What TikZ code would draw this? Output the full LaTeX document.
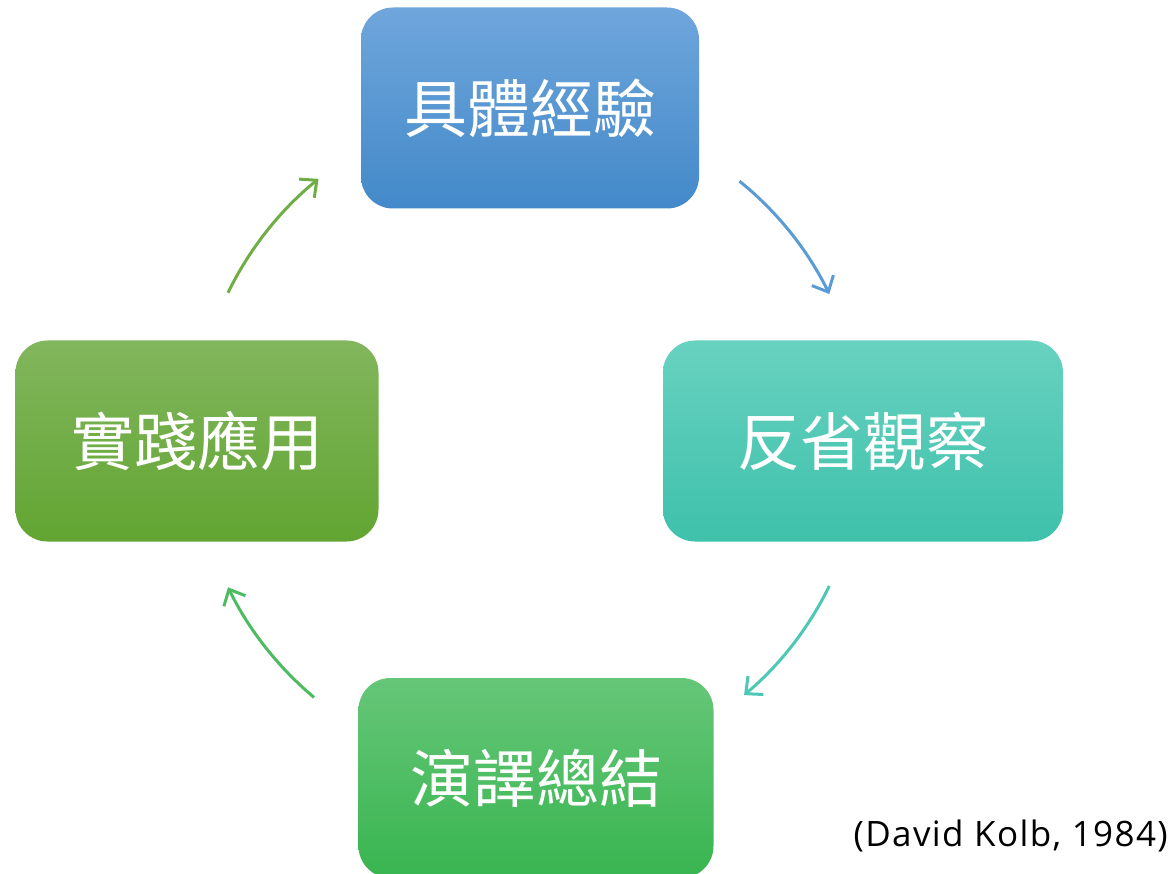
\documentclass[tikz,border=0pt]{standalone}
\usepackage{fontspec}
\setmainfont{Open Sans}
\newfontfamily\citefont[LetterSpace=4]{Open Sans}
\newfontfamily\cjk{Noto Sans CJK TC}
\usetikzlibrary{arrows.meta}
\definecolor{bluetop}{HTML}{6FA6DC}
\definecolor{bluebot}{HTML}{4389C9}
\definecolor{tealtop}{HTML}{68D2C0}
\definecolor{tealbot}{HTML}{3EC1AB}
\definecolor{greentop}{HTML}{66C678}
\definecolor{greenbot}{HTML}{38B550}
\definecolor{olivetop}{HTML}{82B65D}
\definecolor{olivebot}{HTML}{62A532}
\definecolor{arrblue}{HTML}{5B9BD5}
\definecolor{arrteal}{HTML}{4DC8B4}
\definecolor{arrgreen}{HTML}{4CBB61}
\definecolor{arrolive}{HTML}{70AD47}
\tikzset{
  box/.style={rounded corners=32pt, inner sep=0pt, text=white,
    font=\cjk\fontsize{63}{72}\selectfont},
  cyc/.style={line width=3pt, -{Straight Barb[length=13pt,width=24pt,line width=3pt]}},
}
\begin{document}
\begin{tikzpicture}[x=1pt,y=1pt]
\useasboundingbox (0,0) rectangle (1170,-874);
\begin{scope}
\clip (0,0) rectangle (1170,-874);
\node[box, shade, top color=bluetop, bottom color=bluebot, minimum width=338pt, minimum height=201pt] (exp) at (530,-108) {具體經驗};
\node[box, shade, top color=tealtop, bottom color=tealbot, minimum width=400pt, minimum height=201pt] (ref) at (863,-441) {反省觀察};
\node[box, shade, top color=greentop, bottom color=greenbot, minimum width=355pt, minimum height=200pt] (con) at (536,-778) {演譯總結};
\node[box, shade, top color=olivetop, bottom color=olivebot, minimum width=363pt, minimum height=201pt] (act) at (197,-441) {實踐應用};
\end{scope}
\coordinate (c) at (530,-440);
\draw[cyc, arrblue] ([shift={(51:333)}]c) arc[start angle=51, end angle=26, radius=333];
\draw[cyc, arrteal] ([shift={(-26:333)}]c) arc[start angle=-26, end angle=-50, radius=333];
\draw[cyc, arrgreen] ([shift={(230:336)}]c) arc[start angle=230, end angle=206, radius=336];
\draw[cyc, arrolive] ([shift={(154:336)}]c) arc[start angle=154, end angle=129, radius=336];
\node[anchor=east, inner sep=0pt, font=\citefont\fontsize{35}{42}\selectfont] (cite) at (1168,-836) {(David Kolb, 1984)};
\end{tikzpicture}
\end{document}
